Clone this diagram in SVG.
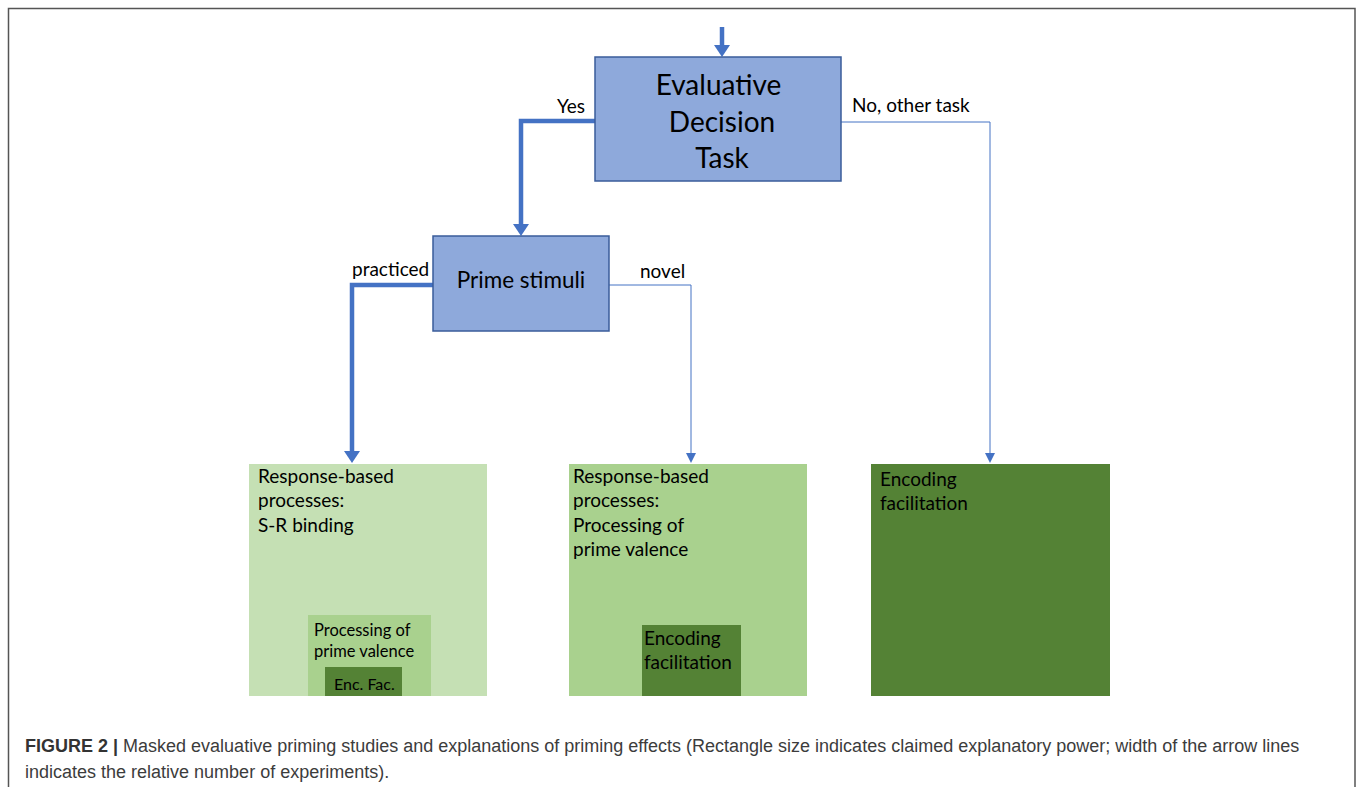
<svg xmlns="http://www.w3.org/2000/svg" width="1358" height="787" viewBox="0 0 1358 787">
<style>
.node{font-family:Lato,"Open Sans",sans-serif;fill:#000}
.blue{fill:#8EA9DB;stroke:#3A5C9A;stroke-width:1.5}
.lbl{font-family:Lato,"Open Sans",sans-serif;font-size:19px;fill:#000}
.thick{fill:none;stroke:#4472C4;stroke-width:4.5}
.thin{fill:none;stroke:#4472C4;stroke-width:1}
.cap{font-family:"Liberation Sans",Arial,sans-serif;font-size:18px;fill:#3c3c3c}
</style>
<defs>
<marker id="ah" markerUnits="userSpaceOnUse" markerWidth="16" markerHeight="12" refX="8" refY="0" viewBox="0 0 16 12">
<path d="M0,0 L16,0 L8,12 Z" fill="#4472C4"/>
</marker>
<marker id="as" markerUnits="userSpaceOnUse" markerWidth="10" markerHeight="10" refX="5" refY="0" viewBox="0 0 10 10">
<path d="M0,0 L10,0 L5,10 Z" fill="#4472C4"/>
</marker>
</defs>
<rect width="1358" height="787" fill="#fff"/>
<path d="M8.5,787 V8.5 H1355 V787" fill="none" stroke="#555" stroke-width="1.5"/>

<g id="connectors">
<path class="thick" d="M722,27 V45" marker-end="url(#ah)"/>
<path class="thick" d="M595,121 H521 V224" marker-end="url(#ah)"/>
<path class="thin" d="M841,122 H990 V453" marker-end="url(#as)"/>
<path class="thick" d="M433,285 H352 V451" marker-end="url(#ah)"/>
<path class="thin" d="M609,285 H691 V453" marker-end="url(#as)"/>
<text class="lbl" x="557" y="113">Yes</text>
<text class="lbl" x="852" y="112">No, other task</text>
<text class="lbl" x="352" y="276">practiced</text>
<text class="lbl" x="640" y="278">novel</text>
</g>

<g id="evaluative">
<rect class="blue" x="595" y="57" width="246" height="124"/>
<text class="node" font-size="28" text-anchor="middle" x="718.5" y="95">Evaluative</text>
<text class="node" font-size="28" text-anchor="middle" x="722" y="132">Decision</text>
<text class="node" font-size="28" text-anchor="middle" x="722" y="168">Task</text>
</g>

<g id="prime">
<rect class="blue" x="433" y="236" width="176" height="95"/>
<text class="node" font-size="22.5" text-anchor="middle" x="521" y="288">Prime stimuli</text>
</g>

<g id="sr-binding">
<rect x="249" y="464" width="238" height="232" fill="#C5E0B4"/>
<text class="node" font-size="19" x="258" y="483">Response-based</text>
<text class="node" font-size="19" x="258" y="507">processes:</text>
<text class="node" font-size="19" x="258" y="532">S-R binding</text>
</g>
<g id="sr-valence">
<rect x="308" y="615" width="123" height="81" fill="#A9D18E"/>
<text class="node" font-size="16.5" x="314" y="636">Processing of</text>
<text class="node" font-size="16.5" x="314" y="657">prime valence</text>
</g>
<g id="sr-encfac">
<rect x="325" y="667" width="77" height="29" fill="#548235"/>
<text class="node" font-size="16" x="334" y="690">Enc. Fac.</text>
</g>

<g id="valence">
<rect x="569" y="464" width="238" height="232" fill="#A9D18E"/>
<text class="node" font-size="19" x="573" y="483">Response-based</text>
<text class="node" font-size="19" x="573" y="507">processes:</text>
<text class="node" font-size="19" x="573" y="532">Processing of</text>
<text class="node" font-size="19" x="573" y="556">prime valence</text>
</g>
<g id="valence-encfac">
<rect x="642" y="625" width="99" height="71" fill="#548235"/>
<text class="node" font-size="19" x="644" y="645">Encoding</text>
<text class="node" font-size="19" x="644" y="669">facilitation</text>
</g>

<g id="encoding">
<rect x="871" y="464" width="239" height="232" fill="#548235"/>
<text class="node" font-size="19" x="880" y="486">Encoding</text>
<text class="node" font-size="19" x="880" y="510">facilitation</text>
</g>

<g id="caption">
<text class="cap" x="25" y="752"><tspan font-weight="bold" fill="#333">FIGURE 2 |</tspan> Masked evaluative priming studies and explanations of priming effects (Rectangle size indicates claimed explanatory power; width of the arrow lines</text>
<text class="cap" x="25" y="778">indicates the relative number of experiments).</text>
</g>
</svg>
